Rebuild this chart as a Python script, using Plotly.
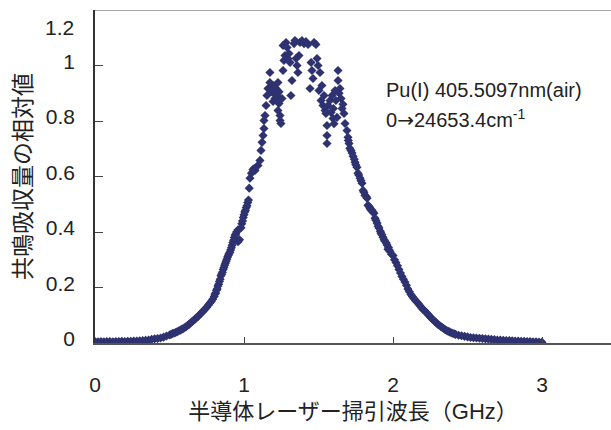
import plotly.graph_objects as go

# ---- data (GHz, relative absorption) ----
left_x = [0.00, 0.02, 0.04, 0.06, 0.08, 0.10, 0.12, 0.14, 0.16, 0.18, 0.20, 0.22, 0.24,
          0.26, 0.28, 0.30, 0.32, 0.34, 0.36, 0.38, 0.40, 0.42, 0.44, 0.46, 0.48,
          0.50, 0.51, 0.52, 0.53, 0.54, 0.55, 0.56, 0.57, 0.58, 0.59, 0.60, 0.61, 0.62,
          0.63, 0.64, 0.65, 0.66, 0.67, 0.68, 0.69, 0.70, 0.71, 0.72, 0.73, 0.74, 0.75,
          0.76, 0.77, 0.78, 0.79, 0.80, 0.81, 0.82, 0.83, 0.84, 0.85, 0.86, 0.87, 0.88,
          0.89, 0.90, 0.91, 0.92, 0.93, 0.94, 0.95, 0.96, 0.96, 0.97, 0.98, 0.99, 1.00,
          1.01, 1.02, 1.03, 1.035, 1.04, 1.05, 1.06, 1.07,
          0.805, 0.815, 0.825, 0.835, 0.845, 0.855, 0.865, 0.875, 0.885, 0.895, 0.905,
          0.915, 0.925, 0.935, 0.945, 0.985, 0.995, 1.005, 1.015, 1.025]
left_y = [0.005, 0.004, 0.005, 0.004, 0.005, 0.005, 0.004, 0.005, 0.005, 0.006, 0.005, 0.006, 0.006,
          0.007, 0.007, 0.008, 0.009, 0.010, 0.011, 0.013, 0.015, 0.016, 0.018, 0.021, 0.025,
          0.029, 0.031, 0.034, 0.035, 0.038, 0.040, 0.043, 0.045, 0.049, 0.051, 0.055, 0.058, 0.063,
          0.066, 0.072, 0.076, 0.081, 0.085, 0.091, 0.095, 0.101, 0.106, 0.112, 0.117, 0.123, 0.129,
          0.136, 0.143, 0.150, 0.158, 0.168, 0.180, 0.195, 0.212, 0.230, 0.248, 0.265, 0.280, 0.295,
          0.310, 0.322, 0.335, 0.352, 0.370, 0.388, 0.400, 0.408, 0.365, 0.372, 0.415, 0.440, 0.462,
          0.478, 0.495, 0.515, 0.558, 0.594, 0.612, 0.625, 0.630,
          0.176, 0.190, 0.205, 0.222, 0.242, 0.255, 0.272, 0.287, 0.302, 0.316, 0.327,
          0.343, 0.362, 0.380, 0.393, 0.430, 0.452, 0.472, 0.488, 0.506]

peak_x = [1.074, 1.094, 1.107, 1.114, 1.121, 1.128, 1.134, 1.134, 1.141, 1.148, 1.154, 1.161,
          1.174, 1.174, 1.181, 1.195, 1.201, 1.208, 1.215, 1.221, 1.228, 1.228, 1.235, 1.242,
          1.242, 1.248, 1.255, 1.262, 1.268, 1.262, 1.275, 1.282, 1.289, 1.295, 1.302, 1.309,
          1.315, 1.322, 1.336, 1.342, 1.349, 1.356, 1.362, 1.369, 1.376, 1.389, 1.403, 1.416,
          1.430, 1.443, 1.450, 1.456, 1.463, 1.470, 1.483, 1.490, 1.497, 1.503, 1.510, 1.517,
          1.523, 1.530, 1.537, 1.544, 1.550, 1.557, 1.557, 1.557, 1.564, 1.577, 1.584, 1.591,
          1.597, 1.611, 1.617, 1.624, 1.631, 1.631, 1.644, 1.651, 1.658, 1.671, 1.678, 1.691,
          1.698, 1.705, 1.718, 1.732, 1.745, 1.758, 1.765, 1.779, 1.792, 1.799, 1.812, 1.826,
          1.832, 1.846, 1.859, 1.872, 1.879, 1.893, 1.906, 1.919, 1.933, 1.946, 1.960, 1.966,
          1.188, 1.195, 1.215, 1.235, 1.600, 1.604, 1.638, 1.664,
          1.700, 1.710, 1.725, 1.740, 1.750, 1.770, 1.785, 1.805, 1.820, 1.840, 1.850, 1.865,
          1.885, 1.900, 1.915, 1.925, 1.940, 1.955, 1.970, 1.975, 1.990]
peak_y = [0.622, 0.640, 0.658, 0.694, 0.723, 0.748, 0.773, 0.802, 0.820, 0.856, 0.892, 0.917,
          0.939, 0.975, 0.910, 0.928, 0.899, 0.881, 0.917, 0.892, 0.939, 0.838, 0.863, 0.820,
          0.802, 0.791, 0.881, 0.982, 1.018, 1.072, 1.036, 1.083, 1.065, 1.025, 1.043, 1.011,
          0.892, 0.946, 1.079, 1.090, 1.025, 1.000, 0.975, 1.036, 1.083, 1.090, 1.079, 1.086,
          1.076, 0.917, 1.011, 0.982, 0.953, 1.083, 1.076, 1.025, 1.000, 0.910, 0.975, 0.874,
          0.928, 0.856, 0.892, 0.838, 0.827, 0.784, 0.748, 0.719, 0.856, 0.874, 0.831, 0.892,
          0.809, 0.910, 0.874, 0.813, 0.982, 0.946, 0.917, 0.881, 0.845, 0.827, 0.791, 0.766,
          0.741, 0.719, 0.694, 0.673, 0.651, 0.633, 0.612, 0.594, 0.576, 0.550, 0.532, 0.522,
          0.496, 0.486, 0.478, 0.468, 0.450, 0.432, 0.414, 0.396, 0.381, 0.367, 0.353, 0.338,
          0.905, 0.870, 0.875, 0.905, 0.845, 0.790, 0.900, 0.860,
          0.730, 0.702, 0.685, 0.662, 0.642, 0.605, 0.585, 0.543, 0.528, 0.492, 0.480, 0.472,
          0.442, 0.421, 0.403, 0.390, 0.372, 0.360, 0.344, 0.335, 0.320]

right_x = [1.98, 2.00, 2.02, 2.04, 2.06, 2.08, 2.10, 2.12, 2.14, 2.16, 2.18, 2.20, 2.22, 2.24,
           2.26, 2.28, 2.30, 2.32, 2.34, 2.36, 2.38, 2.40, 2.42, 2.44, 2.46, 2.48, 2.50, 2.52,
           2.54, 2.56, 2.58, 2.60, 2.62, 2.64, 2.66, 2.68, 2.70, 2.72, 2.74, 2.76, 2.78, 2.80,
           2.82, 2.84, 2.86, 2.88, 2.90, 2.92, 2.94, 2.96, 2.98, 3.00,
           2.01, 2.03, 2.05, 2.07, 2.09, 2.11, 2.13, 2.15, 2.17, 2.19, 2.21, 2.23, 2.25,
           2.27, 2.29, 2.31, 2.33, 2.35, 2.37, 2.39, 2.41]
right_y = [0.330, 0.315, 0.290, 0.265, 0.240, 0.220, 0.195, 0.175, 0.160, 0.148, 0.135, 0.122,
           0.112, 0.100, 0.088, 0.078, 0.068, 0.060, 0.052, 0.045, 0.040, 0.035, 0.031, 0.028,
           0.026, 0.024, 0.022, 0.020, 0.019, 0.018, 0.017, 0.016, 0.015, 0.014, 0.013, 0.012,
           0.011, 0.011, 0.010, 0.009, 0.009, 0.008, 0.007, 0.007, 0.006, 0.006, 0.005, 0.005,
           0.004, 0.004, 0.003, 0.003,
           0.300, 0.278, 0.252, 0.230, 0.208, 0.185, 0.168, 0.154, 0.142, 0.128, 0.117, 0.106,
           0.094, 0.083, 0.073, 0.064, 0.056, 0.048, 0.042, 0.037, 0.033]

x_ticks = [0, 1, 2, 3]
y_ticks = [0, 0.2, 0.4, 0.6, 0.8, 1.0]
y_top = 1.2

FONT = "Arial, 'Liberation Sans', 'Noto Sans CJK JP', sans-serif"
COLOR = "#2e3270"

xs = left_x + peak_x + right_x
ys = left_y + peak_y + right_y

fig = go.Figure()
fig.add_trace(go.Scatter(
    x=xs, y=ys, mode="markers",
    marker=dict(symbol="diamond", size=7, color=COLOR, line=dict(width=0)),
    hoverinfo="skip", showlegend=False,
))

fig.update_layout(
    width=611, height=430,
    margin=dict(l=95, r=0, t=10, b=87),
    paper_bgcolor="white", plot_bgcolor="white",
    font=dict(family=FONT, size=21, color="#222222"),
    xaxis=dict(
        range=[0, 3.463], tickvals=x_ticks, ticktext=[str(v) for v in x_ticks],
        ticks="inside", ticklen=6, tickwidth=1, tickcolor="#444444",
        showline=True, linecolor="#555555", linewidth=2,
        showgrid=False, zeroline=False,
        ticklabelstandoff=22,
        title=dict(text="半導体レーザー掃引波長（GHz）", font=dict(size=22), standoff=8),
    ),
    yaxis=dict(
        range=[0, y_top], tickvals=y_ticks,
        ticktext=["0", "0.2", "0.4", "0.6", "0.8", "1"],
        ticks="inside", ticklen=8, tickwidth=1, tickcolor="#444444",
        showline=True, linecolor="#333333", linewidth=1.5,
        showgrid=False, zeroline=False,
        ticklabelstandoff=14, ticklabelshift=-4,
        title=dict(text="共鳴吸収量の相対値", font=dict(size=23), standoff=8),
    ),
    shapes=[dict(type="line", xref="paper", yref="y", x0=0, x1=1, y0=y_top, y1=y_top,
                 line=dict(color="#888888", width=1.5))],
    annotations=[
        dict(text="1.2", xref="paper", yref="paper", x=0, y=0.946, xanchor="right",
             yanchor="middle", xshift=-19, showarrow=False, font=dict(size=21)),
        dict(text="Pu(I) 405.5097nm(air)", xref="paper", yref="paper", x=0.56, y=0.76,
             xanchor="left", yanchor="middle", showarrow=False, font=dict(size=20)),
        dict(text="0<span style=\"font-family:'DejaVu Sans'\">→</span>24653.4cm<sup>-1</sup>",
             xref="paper", yref="paper", x=0.56, y=0.672,
             xanchor="left", yanchor="middle", showarrow=False, font=dict(size=20)),
    ],
)

fig.write_html("out.html")
